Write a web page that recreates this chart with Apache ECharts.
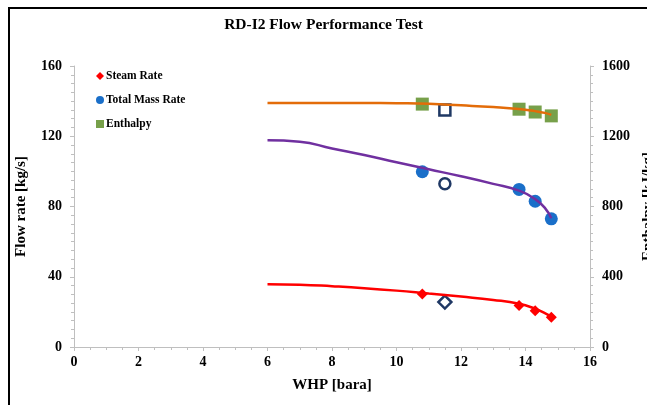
<!DOCTYPE html>
<html>
<head>
<meta charset="utf-8">
<script src="https://cdn.jsdelivr.net/npm/echarts@6/dist/echarts.min.js"></script>
<style>
  html, body { margin: 0; padding: 0; background: #fff; }
  #chart { width: 647px; height: 405px; }
</style>
</head>
<body>
<div id="chart"></div>
<script>
// measured points (WHP [bara] -> value)
const whp = [10.8, 13.8, 14.3, 14.8];
const steamRate = [30.2, 23.6, 20.7, 17.0];
const totalMass = [99.8, 89.7, 83.0, 73.0];
const enthalpy = [1383, 1354, 1338, 1316];

// single check point (hollow markers)
const checkWhp = 11.5;
const checkSteam = 25.6;
const checkTotal = 93.0;
const checkEnthalpy = 1350;

// fitted trend lines
const fitWhp = [6, 7, 8, 9, 10, 11, 12, 13, 13.8, 14.3, 14.6, 14.8];
const fitSteam = [35.8, 35.5, 34.6, 33.5, 32.1, 30.4, 28.7, 26.8, 24.6, 21.8, 19.3, 17.3];
const fitTotal = [117.7, 116.9, 113.0, 109.3, 105.2, 101.2, 97.2, 92.9, 89.0, 84.2, 79.2, 73.3];
const fitEnthalpy = [1389, 1389, 1389, 1389, 1388, 1385, 1376, 1366, 1355, 1343, 1333, 1322];

const pair = (xs, ys) => xs.map((x, i) => [x, ys[i]]);

const font = "'Liberation Serif', 'Times New Roman', serif";
const axisGrey = "#bfbfbf";

const chart = echarts.init(document.getElementById("chart"));

chart.setOption({
  animation: false,
  textStyle: { fontFamily: font },
  title: {
    text: "RD-I2 Flow Performance Test",
    left: "center",
    top: 12,
    textStyle: { fontFamily: font, fontSize: 15.5, fontWeight: "bold", color: "#000" }
  },
  legend: {
    orient: "vertical",
    left: 91,
    top: 65,
    itemGap: 12,
    itemWidth: 8,
    itemHeight: 8,
    textStyle: { fontFamily: font, fontSize: 11.5, fontWeight: "bold", color: "#000", padding: [0, 0, 0, -3] },
    data: [
      { name: "Steam Rate", icon: "diamond" },
      { name: "Total Mass Rate", icon: "circle" },
      { name: "Enthalpy", icon: "rect" }
    ]
  },
  grid: { left: 74, right: 57, top: 66, bottom: 58, outerBoundsMode: "none", containLabel: false },
  xAxis: {
    type: "value",
    min: 0,
    max: 16,
    interval: 2,
    name: "WHP [bara]",
    nameLocation: "middle",
    nameGap: 31,
    nameTextStyle: { fontFamily: font, fontSize: 15, fontWeight: "bold", color: "#000" },
    axisLine: { lineStyle: { color: axisGrey } },
    axisTick: { show: true, length: 4, lineStyle: { color: axisGrey } },
    minorTick: { show: true, splitNumber: 4, length: 3, lineStyle: { color: axisGrey } },
    splitLine: { show: false },
    axisLabel: { fontFamily: font, fontSize: 14, fontWeight: "bold", color: "#000", margin: 8 }
  },
  yAxis: [
    {
      type: "value",
      min: 0,
      max: 160,
      interval: 40,
      name: "Flow rate [kg/s]",
      nameLocation: "middle",
      nameGap: 45,
      nameTextStyle: { fontFamily: font, fontSize: 15, fontWeight: "bold", color: "#000" },
      axisLine: { show: true, lineStyle: { color: axisGrey } },
      axisTick: { show: true, length: 4, lineStyle: { color: axisGrey } },
      minorTick: { show: true, splitNumber: 8, length: 3, lineStyle: { color: axisGrey } },
      splitLine: { show: false },
      axisLabel: { fontFamily: font, fontSize: 14, fontWeight: "bold", color: "#000", margin: 12 }
    },
    {
      type: "value",
      min: 0,
      max: 1600,
      interval: 400,
      position: "right",
      name: "Enthalpy [kJ/kg]",
      nameLocation: "middle",
      nameGap: 50,
      nameTextStyle: { fontFamily: font, fontSize: 15, fontWeight: "bold", color: "#000" },
      axisLine: { show: true, lineStyle: { color: axisGrey } },
      axisTick: { show: true, length: 4, lineStyle: { color: axisGrey } },
      minorTick: { show: true, splitNumber: 8, length: 3, lineStyle: { color: axisGrey } },
      splitLine: { show: false },
      axisLabel: {
        fontFamily: font, fontSize: 14, fontWeight: "bold", color: "#000", margin: 12,
        formatter: v => String(v)
      }
    }
  ],
  graphic: [
    {
      type: "polyline",
      shape: { points: [[9, 420], [9, 8], [660, 8]] },
      style: { stroke: "#000", lineWidth: 2, fill: null }
    }
  ],
  series: [
    {
      name: "Enthalpy fit",
      type: "line",
      yAxisIndex: 1,
      smooth: 0.5,
      showSymbol: false,
      lineStyle: { color: "#e36c09", width: 2.5 },
      data: pair(fitWhp, fitEnthalpy)
    },
    {
      name: "Total Mass fit",
      type: "line",
      smooth: 0.5,
      showSymbol: false,
      lineStyle: { color: "#7030a0", width: 2.5 },
      data: pair(fitWhp, fitTotal)
    },
    {
      name: "Steam fit",
      type: "line",
      smooth: 0.5,
      showSymbol: false,
      lineStyle: { color: "#ff0000", width: 2.5 },
      data: pair(fitWhp, fitSteam)
    },
    {
      name: "Steam Rate",
      type: "scatter",
      symbol: "diamond",
      symbolSize: 11,
      itemStyle: { color: "#ff0000", opacity: 1 },
      data: pair(whp, steamRate)
    },
    {
      name: "Total Mass Rate",
      type: "scatter",
      symbol: "circle",
      symbolSize: 13,
      itemStyle: { color: "#1a6fc9", opacity: 1 },
      data: pair(whp, totalMass)
    },
    {
      name: "Enthalpy",
      type: "scatter",
      yAxisIndex: 1,
      symbol: "rect",
      symbolSize: 13,
      itemStyle: { color: "#77a04a", opacity: 1 },
      data: pair(whp, enthalpy)
    },
    {
      name: "Steam check",
      type: "scatter",
      symbol: "diamond",
      symbolSize: 13,
      itemStyle: { color: "#fff", borderColor: "#1f3864", borderWidth: 2.5, opacity: 1 },
      data: [[checkWhp, checkSteam]]
    },
    {
      name: "Total check",
      type: "scatter",
      symbol: "circle",
      symbolSize: 11,
      itemStyle: { color: "#fff", borderColor: "#1f3864", borderWidth: 2.5, opacity: 1 },
      data: [[checkWhp, checkTotal]]
    },
    {
      name: "Enthalpy check",
      type: "scatter",
      yAxisIndex: 1,
      symbol: "rect",
      symbolSize: 11,
      itemStyle: { color: "#fff", borderColor: "#1f3864", borderWidth: 2.5, opacity: 1 },
      data: [[checkWhp, checkEnthalpy]]
    }
  ]
});
</script>
</body>
</html>
